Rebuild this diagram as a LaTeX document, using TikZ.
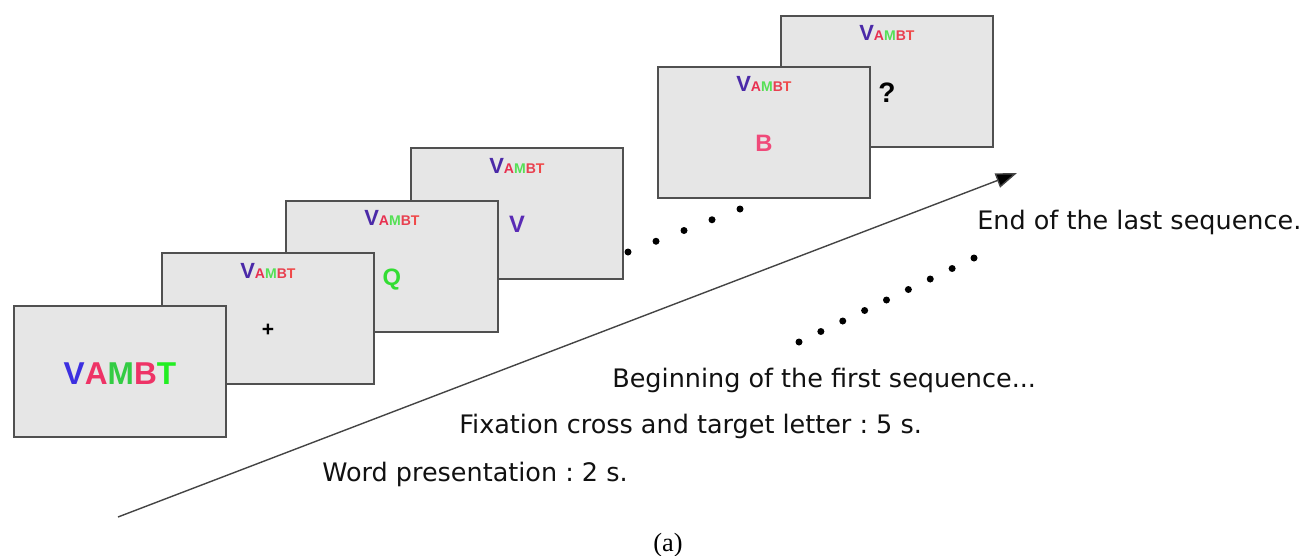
\documentclass[tikz,border=0pt]{standalone}
\usepackage{fontspec}
\setmainfont{DejaVu Sans}
\newfontfamily\boxfont{Liberation Sans}
\newfontfamily\capfont{Liberation Serif}
\usetikzlibrary{arrows.meta,calc}
\frenchspacing

\definecolor{boxfill}{HTML}{E6E6E6}
\definecolor{boxborder}{HTML}{505050}
\definecolor{linecol}{HTML}{444444}
\definecolor{txtcol}{HTML}{111111}
\definecolor{sV}{HTML}{4B2AA8}
\definecolor{sA}{HTML}{E83050}
\definecolor{sM}{HTML}{55E055}
\definecolor{sB}{HTML}{E84050}
\definecolor{sT}{HTML}{F04848}
\definecolor{bV}{HTML}{3C2FE0}
\definecolor{bA}{HTML}{EE3366}
\definecolor{bM}{HTML}{33CC44}
\definecolor{bB}{HTML}{EE3366}
\definecolor{bT}{HTML}{22EE22}
\definecolor{qGreen}{HTML}{33DD33}
\definecolor{vPurple}{HTML}{5A2BB5}
\definecolor{bPink}{HTML}{F04A7A}

\newcommand{\smallvambt}{{\fontsize{12.5}{13}\selectfont\color{sV}V}{\fontsize{8}{9}\selectfont\color{sA}A\color{sM}M\color{sB}B\color{sT}T}}
\newcommand{\bigvambt}{\color{bV}V\color{bA}A\color{bM}M\color{bB}B\color{bT}T}

\begin{document}
\begin{tikzpicture}[x=0.02cm,y=-0.02cm,
  screen/.style={draw=boxborder, fill=boxfill, line width=1.1pt, minimum width=4.24cm,
    minimum height=2.62cm, inner sep=0pt, anchor=north west},
  word/.style={font=\boxfont\bfseries, inner sep=0pt, anchor=base},
  letter/.style={font=\boxfont\bfseries\fontsize{13.5}{15}\selectfont, inner sep=0pt, anchor=base},
  lbl/.style={font=\fontsize{14.5}{17}\selectfont, text=txtcol, inner sep=0pt, anchor=base west},
  timeline/.style={draw=linecol, line width=0.8pt, -{Triangle[length=12pt,width=8.5pt,fill=black]}},
  dot/.style={fill=black}
]
\useasboundingbox (0,0) rectangle (1306,555);

% screens, back to front
\node[screen] (box6) at (780,15) {};
\node[screen] (box5) at (657,66) {};
\node[screen] (box4) at (410,147) {};
\node[screen] (box3) at (285,200) {};
\node[screen] (box2) at (161,252) {};
\node[screen] (box1) at (13,305) {};

% contents
\node[word, font=\boxfont\bfseries\fontsize{18}{21}\selectfont] (w1) at ([yshift=-0.26cm]box1.center) {\bigvambt};
\node[word] (w2) at ([yshift=-0.52cm]box2.north) {\smallvambt};
\node[word] (w3) at ([yshift=-0.52cm]box3.north) {\smallvambt};
\node[word] (w4) at ([yshift=-0.52cm]box4.north) {\smallvambt};
\node[word] (w5) at ([yshift=-0.52cm]box5.north) {\smallvambt};
\node[word] (w6) at ([yshift=-0.52cm]box6.north) {\smallvambt};

\node[letter, anchor=center, font=\boxfont\bfseries\fontsize{12}{13}\selectfont] (plus) at ([yshift=-1.56cm]box2.north) {+};
\node[letter, text=qGreen] (q) at ([yshift=-1.72cm]box3.north) {Q};
\node[letter, text=vPurple] (v) at ([yshift=-1.72cm]box4.north) {V};
\node[letter, text=bPink] (b) at ([yshift=-1.72cm]box5.north) {B};
\node[letter, text=black, font=\boxfont\bfseries\fontsize{16}{18}\selectfont] (qm) at ([yshift=-1.76cm]box6.north) {?};

% time arrow
\coordinate (ts) at (118,517);
\coordinate (te) at (1017,173);
\draw[timeline] (ts) -- (te);

% dots
\coordinate (d1a) at (628,252);
\coordinate (d1b) at (740,209);
\foreach \i in {0,...,4} \fill[dot] ($(d1a)!\i/4!(d1b)$) circle[radius=0.07cm];
\coordinate (d2a) at (799,342);
\coordinate (d2b) at (974,258);
\foreach \i in {0,...,8} \fill[dot] ($(d2a)!\i/8!(d2b)$) circle[radius=0.07cm];

% labels
\node[lbl] (endtxt) at (977,229) {End of the last sequence.};
\node[lbl] (begtxt) at (612,387) {Beginning of the first sequence...};
\node[lbl] (fixtxt) at (459,433) {Fixation cross and target letter : 5 s.};
\node[lbl] (wordtxt) at (322,481) {Word presentation : 2 s.};
\node[font=\capfont\fontsize{15}{18}\selectfont, inner sep=0pt] (cap) at (668,545) {(a)};
\end{tikzpicture}
\end{document}
